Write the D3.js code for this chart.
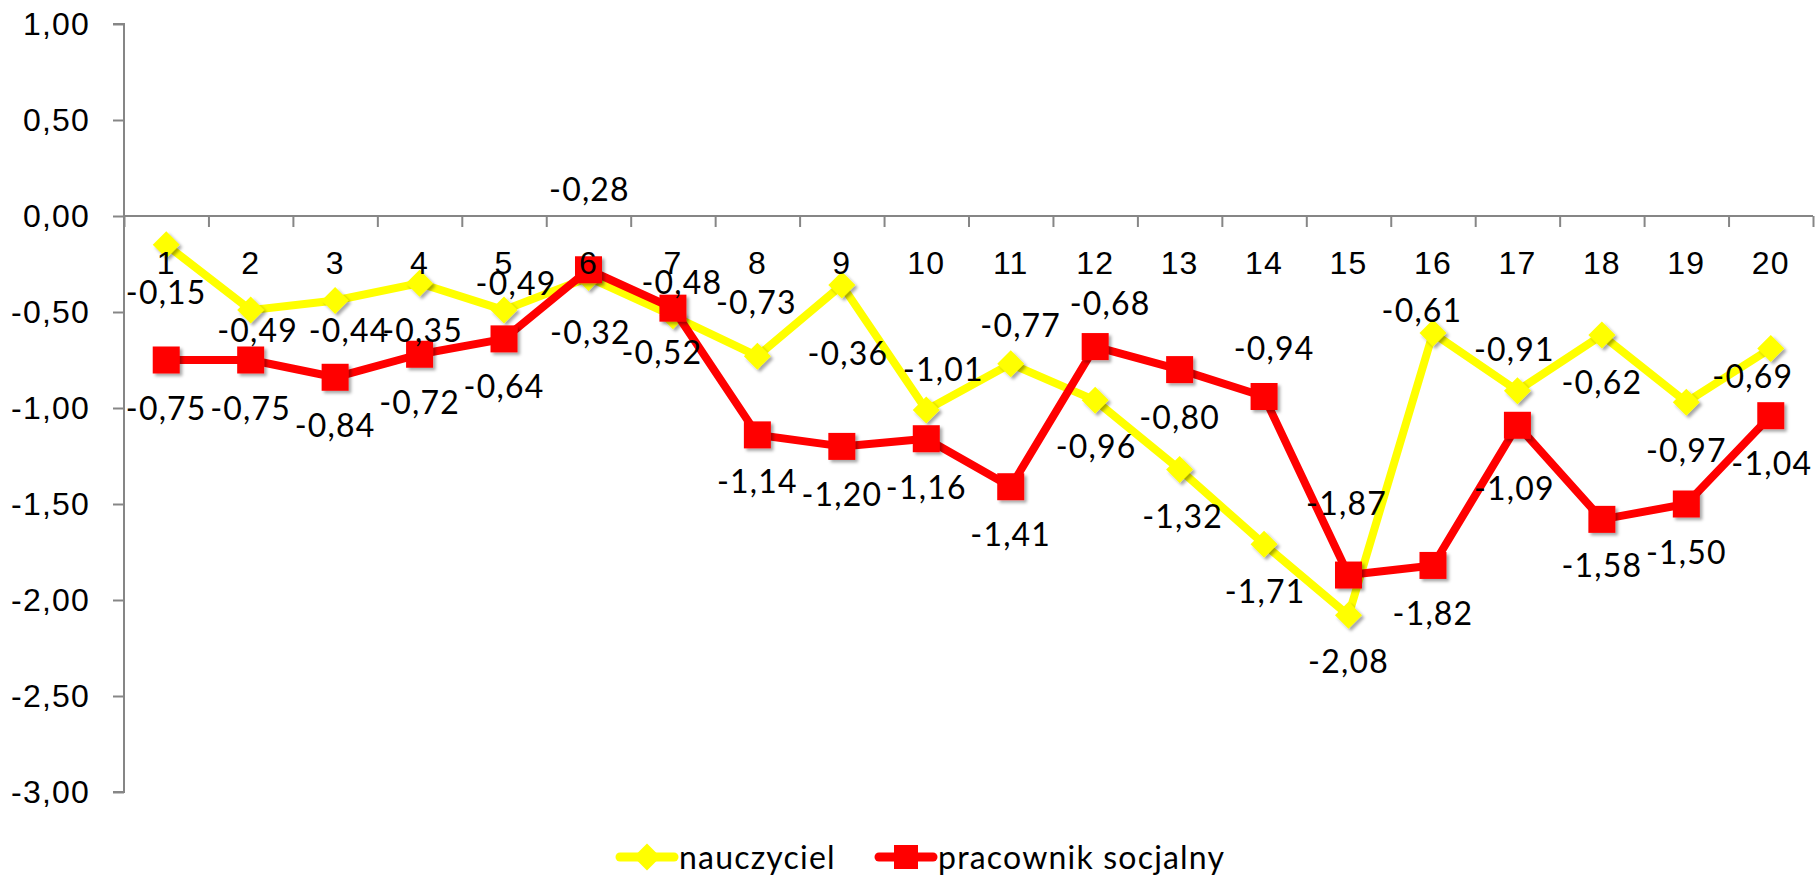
<!DOCTYPE html>
<html>
<head>
<meta charset="utf-8">
<script src="https://cdn.jsdelivr.net/npm/d3@7"></script>
<style>
  body { margin: 0; background: #fff; }
  svg { display: block; font-family: Lato, "Open Sans", sans-serif; }
  .axis path, .axis line { stroke: #868686; stroke-width: 2px; }
  .axis text, .dlabel, .legend text { font-size: 32px; fill: #000; letter-spacing: 1.2px; }
</style>
</head>
<body>
<div id="chart"></div>
<script>
// categories 1..20 along the x axis
var categories = ["1","2","3","4","5","6","7","8","9","10","11","12","13","14","15","16","17","18","19","20"];

// series values
var nauczyciel = [-0.15,-0.49,-0.44,-0.35,-0.49,-0.32,-0.52,-0.73,-0.36,-1.01,-0.77,-0.96,-1.32,-1.71,-2.08,-0.61,-0.91,-0.62,-0.97,-0.69];
var pracownik = [-0.75,-0.75,-0.84,-0.72,-0.64,-0.28,-0.48,-1.14,-1.20,-1.16,-1.41,-0.68,-0.80,-0.94,-1.87,-1.82,-1.09,-1.58,-1.50,-1.04];

var seriesNames = ["nauczyciel", "pracownik socjalny"];

// y tick values
var yTicks = [1, 0.5, 0, -0.5, -1, -1.5, -2, -2.5, -3];

// where each data label sits relative to its point (px), as in the original
var yellowLabelShift = [[0,48],[7,20],[14,30],[3,47],[12,-27],[2,55],[-11,37],[-1,-54],[6,68],[17,-40],
                        [10,-38],[1,46],[3,47],[1,47],[0,46],[-11,-23],[-3,-41],[0,47],[0,48],[-18,28]];
var redLabelShift = [[0,48],[0,48],[0,48],[0,48],[0,48],[1,-80],[9,-26],[0,47],[0,48],[0,49],
                     [0,48],[15,-43],[0,48],[10,-48],[-2,-72],[0,48],[-3,63],[0,46],[0,48],[1,48]];

var W = 1818, H = 876;
var plotLeft = 124, plotRight = 1813, plotTop = 24, plotBottom = 792;

var plLocale = d3.formatLocale({decimal: ",", thousands: " ", grouping: [3], currency: ["", " zł"], minus: "-"});
var fmt = plLocale.format(".2f");

var x = d3.scaleBand().domain(categories).range([plotLeft, plotRight]).padding(0);
var xEdge = d3.scaleLinear().domain([0, categories.length]).range([plotLeft, plotRight]);
var y = d3.scaleLinear().domain([-3, 1]).range([plotBottom, plotTop]);

var svg = d3.select("#chart").append("svg")
  .attr("width", W).attr("height", H);

svg.append("rect").attr("width", W).attr("height", H).attr("fill", "#fff");

var defs = svg.append("defs");
var f = defs.append("filter").attr("id", "shadow")
  .attr("x", "-30%").attr("y", "-30%").attr("width", "170%").attr("height", "170%");
f.append("feDropShadow").attr("dx", 2.5).attr("dy", 2.5).attr("stdDeviation", 1.8)
  .attr("flood-color", "#000").attr("flood-opacity", 0.35);

// y axis
svg.append("g").attr("class", "axis y-axis")
  .attr("transform", "translate(" + plotLeft + ",0)")
  .call(d3.axisLeft(y).tickValues(yTicks).tickSize(11).tickPadding(23).tickFormat(fmt))
  .call(function(g) { g.select(".domain").attr("d", "M-11," + y(1) + "H0V" + y(-3) + "H-11"); });

// x axis line + ticks at category edges
svg.append("g").attr("class", "axis x-axis")
  .attr("transform", "translate(0," + y(0) + ")")
  .call(d3.axisBottom(xEdge).tickValues(d3.range(0, categories.length + 1)).tickSize(11).tickFormat(""))
  .call(function(g) { g.select(".domain").attr("d", "M" + plotLeft + ",0H" + plotRight); });

var cx = function(d, i) { return x(categories[i]) + x.bandwidth() / 2; };

var line = d3.line()
  .x(function(d, i) { return cx(d, i); })
  .y(function(d) { return y(d); });

var diamond = "M0,-13.5L13.5,0L0,13.5L-13.5,0Z";
var square = "M-13.5,-13.5H13.5V13.5H-13.5Z";

function drawSeries(values, color, markerPath) {
  var g = svg.append("g");
  g.append("path").datum(values)
    .attr("d", line)
    .attr("fill", "none")
    .attr("stroke", color)
    .attr("stroke-width", 8)
    .attr("stroke-linejoin", "round");
  g.selectAll(".marker").data(values).enter().append("path")
    .attr("class", "marker")
    .attr("d", markerPath)
    .attr("transform", function(d, i) { return "translate(" + cx(d, i) + "," + y(d) + ")"; })
    .attr("fill", color)
    .attr("filter", "url(#shadow)");
}

drawSeries(nauczyciel, "#ffff00", diamond);
drawSeries(pracownik, "#ff0000", square);

// category labels, drawn over the series as in the original
svg.append("g").attr("class", "axis x-labels")
  .attr("transform", "translate(0," + y(0) + ")")
  .call(d3.axisBottom(x).tickSize(0).tickPadding(35))
  .call(function(g) { g.select(".domain").remove(); });

function drawLabels(values, shift) {
  svg.append("g").selectAll("text").data(values).enter().append("text")
    .attr("class", "dlabel")
    .attr("x", function(d, i) { return cx(d, i) + shift[i][0]; })
    .attr("y", function(d, i) { return y(d) + shift[i][1]; })
    .attr("dy", "0.36em")
    .attr("text-anchor", "middle")
    .text(function(d) { return fmt(d); });
}

drawLabels(nauczyciel, yellowLabelShift);
drawLabels(pracownik, redLabelShift);

// legend
var legend = svg.append("g").attr("class", "legend");
var legendItems = [
  {name: seriesNames[0], color: "#ffff00", marker: diamond, x0: 617},
  {name: seriesNames[1], color: "#ff0000", marker: "M-12,-12H12V12H-12Z", x0: 876}
];
var ly = 857;
legendItems.forEach(function(it) {
  legend.append("line")
    .attr("x1", it.x0 + 3).attr("x2", it.x0 + 57)
    .attr("y1", ly).attr("y2", ly)
    .attr("stroke", it.color).attr("stroke-width", 9).attr("stroke-linecap", "round");
  legend.append("path")
    .attr("d", it.marker)
    .attr("transform", "translate(" + (it.x0 + 30) + "," + ly + ")")
    .attr("fill", it.color);
  legend.append("text")
    .attr("x", it.x0 + 62).attr("y", 869)
    .text(it.name);
});
</script>
</body>
</html>
